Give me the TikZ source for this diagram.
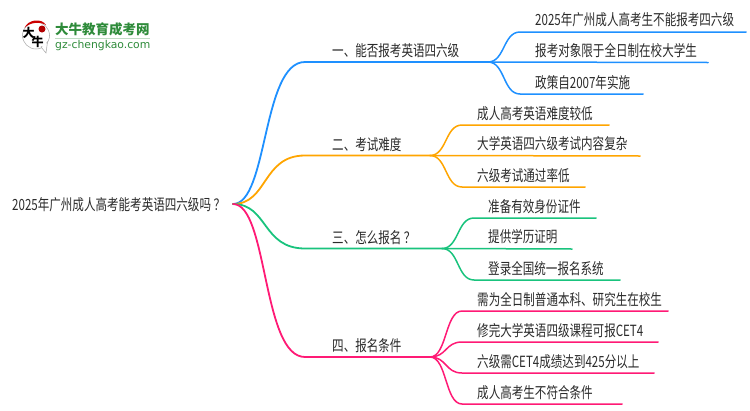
\documentclass[tikz,border=0pt]{standalone}
\usepackage{fontspec}
\setmainfont[FakeStretch=0.75]{Noto Sans CJK SC}
\newfontfamily\latinlogo{DejaVu Sans}
\newfontfamily\cjklogo{Noto Sans CJK SC}
\definecolor{cblue}{HTML}{1E90FF}
\definecolor{corange}{HTML}{FFA500}
\definecolor{cgreen}{HTML}{19C37D}
\definecolor{cpink}{HTML}{FF1A75}
\definecolor{ctext}{HTML}{2A2A2A}
\definecolor{clogo}{HTML}{2E8B3A}
\tikzset{
  lab/.style={inner sep=0pt,anchor=base west,text=ctext,font=\fontsize{15.4}{16}\selectfont},
  wire/.style={line width=1.5pt,line cap=round},
  stem/.style={line width=1.8pt,line cap=round},
  brush/.style={inner sep=0pt,font=\cjklogo\bfseries\fontsize{12}{12}\selectfont},
}
\begin{document}
\begin{tikzpicture}[x=1pt,y=-1pt]
\useasboundingbox (0,0) rectangle (750,410);
% logo
\fill[white,draw=black!35,line width=.5pt] (36,35.5) circle (13.5);
\fill[white,draw=black!35,line width=.5pt] (41,47) -- (46,53) -- (47.5,42) -- cycle;
\fill[white] (39,46) -- (45,46) -- (47,41) -- (42,41) -- cycle;
\fill[red!80!black] (24.5,28) .. controls (28,19) and (42,18) .. (46,25) .. controls (40,21.5) and (30,22) .. (24.5,28) -- cycle;
\fill[red!70!black] (42,29) circle (3.5);
\node[brush] (logoa) at (28.5,33) {大};
\node[brush] (logob) at (37.5,42) {牛};
\node[inner sep=0pt,anchor=west,text=clogo,font=\cjklogo\bfseries\fontsize{13.5}{14}\selectfont] (logoc) at (55,29.5) {大牛教育成考网};
\draw[clogo!30,line width=.6pt] (55,38.5) -- (150,38.5);
\node[inner sep=0pt,anchor=west,text=clogo,font=\latinlogo\fontsize{10.8}{11}\selectfont] (logod) at (55,45.5) {gz-chengkao.com};

% root
\node[lab] (root) at (12,210) {2025年广州成人高考能考英语四六级吗\kern2.5pt？};
\coordinate (rc) at (233,204);

% branch labels
\node[lab] (b1) at (332,56.5) {一、能否报考英语四六级};
\node[lab] (b2) at (332,150) {二、考试难度};
\node[lab] (b3) at (332,243) {三、怎么报名\kern2.5pt？};
\node[lab] (b4) at (332,351) {四、报名条件};
\coordinate (b1s) at (305,62); \coordinate (b1e) at (488,62);
\coordinate (b2s) at (305,155.5); \coordinate (b2e) at (430,155.5);
\coordinate (b3s) at (305,248.5); \coordinate (b3e) at (442,248.5);
\coordinate (b4s) at (305,357); \coordinate (b4e) at (430,357);

% leaf labels
\node[lab] (l11) at (535,25.5) {2025年广州成人高考生不能报考四六级};
\node[lab] (l12) at (535,56) {报考对象限于全日制在校大学生};
\node[lab] (l13) at (535,88) {政策自2007年实施};
\node[lab] (l21) at (477,119) {成人高考英语难度较低};
\node[lab] (l22) at (477,149) {大学英语四六级考试内容复杂};
\node[lab] (l23) at (477,181) {六级考试通过率低};
\node[lab] (l31) at (488,212) {准备有效身份证件};
\node[lab] (l32) at (488,242) {提供学历证明};
\node[lab] (l33) at (488,274) {登录全国统一报名系统};
\node[lab] (l41) at (477,305) {需为全日制普通本科、研究生在校生};
\node[lab] (l42) at (477,336) {修完大学英语四级课程可报CET4};
\node[lab] (l43) at (477,367) {六级需CET4成绩达到425分以上};
\node[lab] (l44) at (477,398) {成人高考生不符合条件};

% blue
\draw[stem,cblue] (rc) .. controls (268,204) and (262,62) .. (b1s) -- (b1e);
\draw[wire,cblue] (b1e) .. controls (505,62) and (503,32) .. (520,32) -- (746,32);
\draw[wire,cblue] (b1e) -- (708,62.5);
\draw[wire,cblue] (b1e) .. controls (505,62) and (503,94) .. (520,94) -- (643,94);
% orange
\draw[stem,corange] (rc) .. controls (268,204) and (262,155.5) .. (b2s) -- (b2e);
\draw[wire,corange] (b2e) .. controls (447,155.5) and (445,125) .. (462,125) -- (609,125);
\draw[wire,corange] (b2e) -- (640,156);
\draw[wire,corange] (b2e) .. controls (447,155.5) and (445,187) .. (462,187) -- (585,187);
% green
\draw[stem,cgreen] (rc) .. controls (268,204) and (262,248.5) .. (b3s) -- (b3e);
\draw[wire,cgreen] (b3e) .. controls (459,248.5) and (457,218) .. (474,218) -- (596,218);
\draw[wire,cgreen] (b3e) -- (572,249);
\draw[wire,cgreen] (b3e) .. controls (459,248.5) and (457,280) .. (474,280) -- (620,280);
% pink
\draw[stem,cpink] (rc) .. controls (268,204) and (262,357) .. (b4s) -- (b4e);
\draw[wire,cpink] (b4e) .. controls (447,357) and (445,311) .. (462,311) -- (668,311);
\draw[wire,cpink] (b4e) .. controls (447,357) and (445,342) .. (462,342) -- (658,342);
\draw[wire,cpink] (b4e) .. controls (447,357) and (445,373) .. (462,373) -- (654,373);
\draw[wire,cpink] (b4e) .. controls (447,357) and (445,404) .. (462,404) -- (622,404);
\end{tikzpicture}
\end{document}
